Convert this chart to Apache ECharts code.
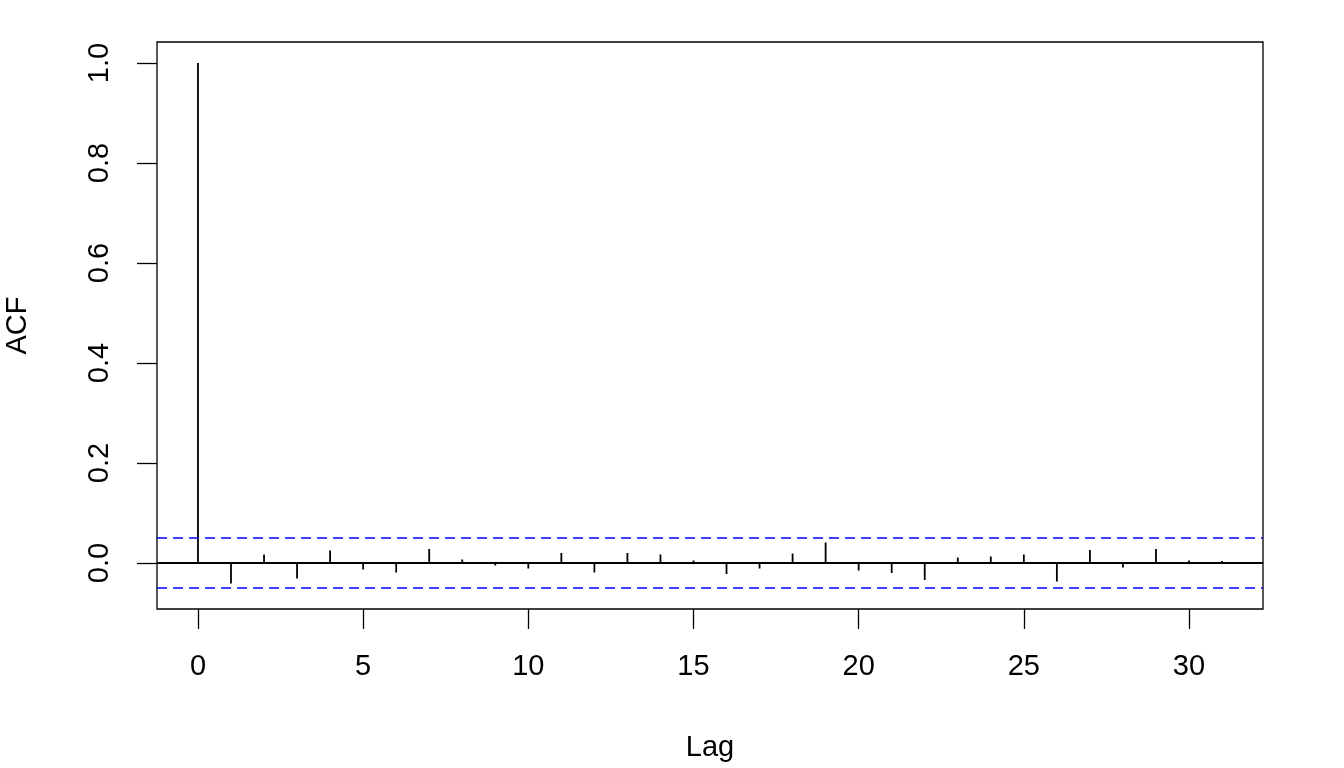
<!DOCTYPE html>
<html>
<head>
<meta charset="utf-8">
<script src="https://cdn.jsdelivr.net/npm/echarts@6/dist/echarts.min.js"></script>
<style>
  html, body { margin: 0; padding: 0; background: #fff; }
  #chart { width: 1344px; height: 768px; }
</style>
</head>
<body>
<div id="chart"></div>
<script>
const lags = [0, 1, 2, 3, 4, 5, 6, 7, 8, 9, 10, 11, 12, 13, 14, 15,
  16, 17, 18, 19, 20, 21, 22, 23, 24, 25, 26, 27, 28, 29, 30, 31];
const acfValues = [1.0, -0.041, 0.017, -0.031, 0.025, -0.013, -0.019, 0.028,
  0.007, -0.005, -0.011, 0.020, -0.019, 0.020, 0.017, 0.005,
  -0.022, -0.011, 0.019, 0.041, -0.015, -0.020, -0.034, 0.011,
  0.013, 0.017, -0.037, 0.026, -0.009, 0.028, 0.005, 0.004];
const ciBound = 0.0506;
const xTicks = [0, 5, 10, 15, 20, 25, 30];
const yTicks = [0, 0.2, 0.4, 0.6, 0.8, 1.0];

const font = "Liberation Sans, Arial, sans-serif";
const chart = echarts.init(document.getElementById("chart"));

const points = lags.map((l, i) => [l, acfValues[i]]);

chart.setOption({
  animation: false,
  grid: {
    left: 157,
    right: 81,
    top: 42,
    bottom: 159,
    outerBoundsMode: "none",
    containLabel: false,
    show: true,
    borderColor: "#000",
    borderWidth: 1.3,
  },
  xAxis: {
    type: "value",
    min: -1.24,
    max: 32.24,
    name: "Lag",
    nameLocation: "middle",
    nameGap: 124,
    nameTextStyle: { fontFamily: font, fontSize: 29, color: "#000" },
    axisLine: { show: false, onZero: false },
    splitLine: { show: false },
    axisTick: {
      show: true,
      customValues: xTicks,
      length: 20,
      lineStyle: { color: "#000", width: 1.3 },
    },
    axisLabel: {
      customValues: xTicks,
      margin: 43,
      fontFamily: font,
      fontSize: 29,
      color: "#000",
    },
  },
  yAxis: {
    type: "value",
    min: -0.092,
    max: 1.042,
    name: "ACF",
    nameLocation: "middle",
    nameGap: 125,
    nameRotate: 90,
    nameTextStyle: { fontFamily: font, fontSize: 29, color: "#000" },
    axisLine: { show: false, onZero: false },
    splitLine: { show: false },
    axisTick: {
      show: true,
      customValues: yTicks,
      length: 20,
      lineStyle: { color: "#000", width: 1.3 },
    },
    axisLabel: {
      customValues: yTicks,
      rotate: 90,
      margin: 43,
      fontFamily: font,
      fontSize: 29,
      color: "#000",
      formatter: (v) => v.toFixed(1),
    },
  },
  series: [
    {
      type: "custom",
      data: points,
      renderItem: (params, api) => {
        const top = api.coord([api.value(0), api.value(1)]);
        const base = api.coord([api.value(0), 0]);
        return {
          type: "line",
          shape: { x1: top[0], y1: top[1], x2: base[0], y2: base[1] },
          style: { stroke: "#000", lineWidth: 1.8 },
        };
      },
      markLine: {
        silent: true,
        symbol: "none",
        label: { show: false },
        data: [
          { yAxis: 0, lineStyle: { color: "#000", type: "solid", width: 1.8 } },
          { yAxis: ciBound, lineStyle: { color: "#0000ff", type: [10, 6], width: 1.6 } },
          { yAxis: -ciBound, lineStyle: { color: "#0000ff", type: [10, 6], width: 1.6 } },
        ],
      },
    },
  ],
});
</script>
</body>
</html>
